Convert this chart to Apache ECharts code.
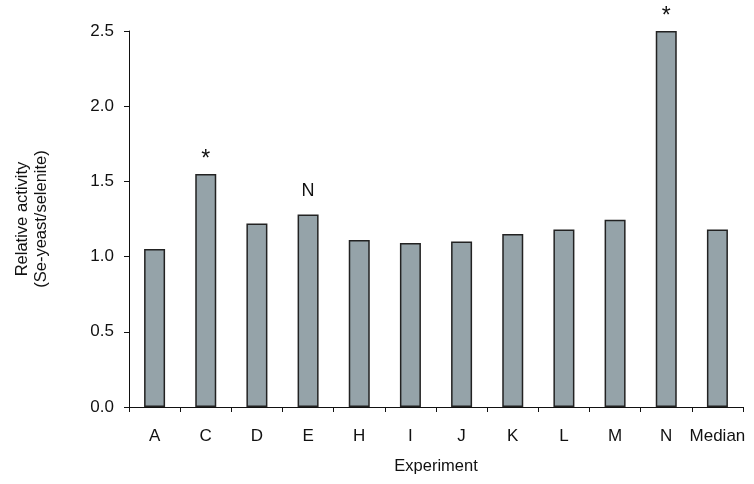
<!DOCTYPE html>
<html>
<head>
<meta charset="utf-8">
<script src="https://cdn.jsdelivr.net/npm/echarts@6/dist/echarts.min.js"></script>
<style>html,body{margin:0;padding:0;background:#fff;}#chart{width:754px;height:484px;}</style>
</head>
<body>
<div id="chart"></div>
<script>
var categories = ['A','C','D','E','H','I','J','K','L','M','N','Median'];
var values = [1.05, 1.55, 1.22, 1.28, 1.11, 1.09, 1.10, 1.15, 1.18, 1.245, 2.5, 1.18];
var marks = ['', '*', '', 'N', '', '', '', '', '', '', '*', ''];
var yTicks = [0, 0.5, 1.0, 1.5, 2.0, 2.5];

var font = 'Liberation Sans, Arial, sans-serif';
var chart = echarts.init(document.getElementById('chart'));
chart.setOption({
  animation: false,
  grid: {left: 129, right: 11, top: 31, bottom: 77, containLabel: false},
  xAxis: {
    type: 'category',
    data: categories,
    boundaryGap: true,
    name: 'Experiment',
    nameLocation: 'middle',
    nameGap: 51,
    nameTextStyle: {fontFamily: font, fontSize: 16.5, color: '#111'},
    axisLine: {lineStyle: {color: '#111', width: 1}},
    axisTick: {show: true, inside: false, length: 5, alignWithLabel: false, lineStyle: {color: '#111'}},
    axisLabel: {fontFamily: font, fontSize: 17, color: '#111', margin: 21, interval: 0},
    splitLine: {show: false}
  },
  yAxis: {
    type: 'value',
    min: 0, max: 2.5, interval: 0.5,
    name: 'Relative activity\n(Se-yeast/selenite)',
    nameLocation: 'middle',
    nameGap: 78,
    nameTextStyle: {fontFamily: font, fontSize: 16.5, color: '#111', lineHeight: 19},
    axisLine: {show: true, lineStyle: {color: '#111', width: 1}},
    axisTick: {show: true, inside: false, length: 5, lineStyle: {color: '#111'}},
    axisLabel: {fontFamily: font, fontSize: 17, color: '#111', margin: 15,
      formatter: function(v){ return yTicks.indexOf(v) >= 0 ? v.toFixed(1) : ''; }},
    splitLine: {show: false}
  },
  series: [{
    type: 'bar',
    data: values,
    barWidth: 21,
    itemStyle: {color: '#95a3a9', borderColor: '#222', borderWidth: 1.5},
    label: {
      show: true, position: 'top', distance: 6,
      fontFamily: font, fontSize: 18, color: '#111',
      formatter: function(p){
        var m = marks[p.dataIndex];
        if (m === '*') return '{s|*}';
        if (m === 'N') return '{n|N}';
        return m;
      },
      rich: {
        s: {fontFamily: font, fontSize: 23, color: '#111', lineHeight: 20, padding: [0,0,-4,0]},
        n: {fontFamily: font, fontSize: 18, color: '#111', padding: [0,0,8,0]}
      }
    }
  }]
});
</script>
</body>
</html>
